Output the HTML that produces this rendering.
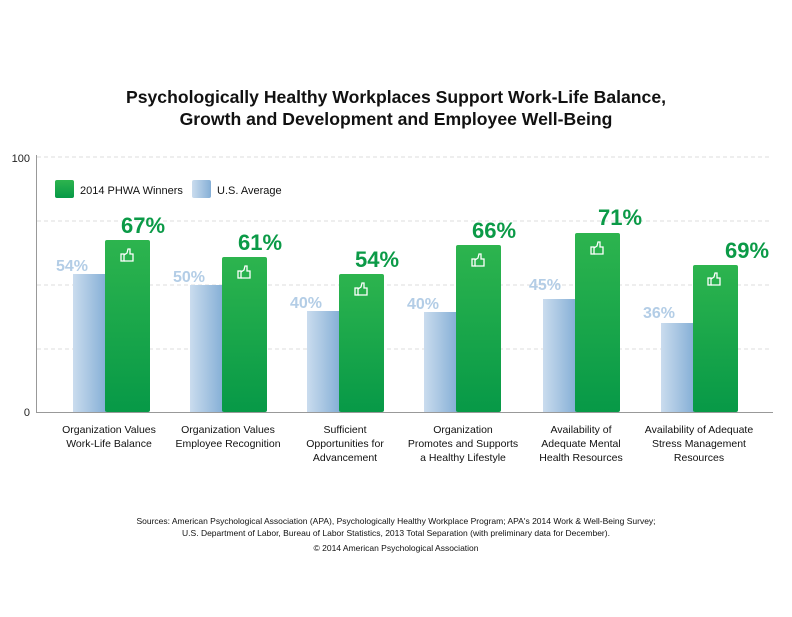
<!DOCTYPE html>
<html><head><meta charset="utf-8"><style>
body{margin:0;width:792px;height:612px;background:#fff;overflow:hidden}
</style></head><body>
<svg width="792" height="612" xmlns="http://www.w3.org/2000/svg" font-family="Liberation Sans, sans-serif">
<defs>
<linearGradient id="g" x1="0" y1="0" x2="0" y2="1"><stop offset="0" stop-color="#2db44e"/><stop offset="1" stop-color="#079947"/></linearGradient>
<linearGradient id="b" x1="0" y1="0" x2="1" y2="0"><stop offset="0" stop-color="#cadcee"/><stop offset="1" stop-color="#85afd6"/></linearGradient>
<g id="th" fill="none" stroke="#fff" stroke-width="1.3"><rect x="-6" y="-2" width="3" height="7"/><path d="M-3 -1 L0 -3 L1 -7 L3 -7 L3 -2 L6 -2 L6 5 L-3 5"/></g>
</defs>
<text x="396" y="103" text-anchor="middle" font-size="17.6" font-weight="bold" fill="#111">Psychologically Healthy Workplaces Support Work-Life Balance,</text>
<text x="396" y="125" text-anchor="middle" font-size="17.6" font-weight="bold" fill="#111">Growth and Development and Employee Well-Being</text>
<g stroke="#ddd" stroke-dasharray="4,3" stroke-width="1">
<line x1="37" y1="157" x2="772" y2="157"/><line x1="37" y1="221" x2="772" y2="221"/><line x1="37" y1="285" x2="772" y2="285"/><line x1="37" y1="349" x2="772" y2="349"/>
</g>
<line x1="36.5" y1="155" x2="36.5" y2="412" stroke="#999"/>
<line x1="36" y1="412.5" x2="773" y2="412.5" stroke="#999"/>
<text x="30" y="162" text-anchor="end" font-size="11" fill="#222">100</text>
<text x="30" y="416" text-anchor="end" font-size="11" fill="#222">0</text>
<rect x="55" y="180" width="19" height="18" rx="2" fill="url(#g)"/>
<text x="80" y="194" font-size="11" fill="#111">2014 PHWA Winners</text>
<rect x="192" y="180" width="19" height="18" rx="2" fill="url(#b)"/>
<text x="217" y="194" font-size="11" fill="#111">U.S. Average</text>
<g font-weight="bold">
<rect x="73" y="274" width="33" height="138" fill="url(#b)"/>
<rect x="105" y="240" width="45" height="172" rx="2" fill="url(#g)"/>
<text x="72" y="271" text-anchor="middle" font-size="16" fill="#b3cde6">54%</text>
<text x="143" y="233" text-anchor="middle" font-size="22" fill="#0b9a47">67%</text>
<use href="#th" x="127" y="256"/>
<rect x="190" y="285" width="33" height="127" fill="url(#b)"/>
<rect x="222" y="257" width="45" height="155" rx="2" fill="url(#g)"/>
<text x="189" y="282" text-anchor="middle" font-size="16" fill="#b3cde6">50%</text>
<text x="260" y="250" text-anchor="middle" font-size="22" fill="#0b9a47">61%</text>
<use href="#th" x="244" y="273"/>
<rect x="307" y="311" width="33" height="101" fill="url(#b)"/>
<rect x="339" y="274" width="45" height="138" rx="2" fill="url(#g)"/>
<text x="306" y="308" text-anchor="middle" font-size="16" fill="#b3cde6">40%</text>
<text x="377" y="267" text-anchor="middle" font-size="22" fill="#0b9a47">54%</text>
<use href="#th" x="361" y="290"/>
<rect x="424" y="312" width="33" height="100" fill="url(#b)"/>
<rect x="456" y="245" width="45" height="167" rx="2" fill="url(#g)"/>
<text x="423" y="309" text-anchor="middle" font-size="16" fill="#b3cde6">40%</text>
<text x="494" y="238" text-anchor="middle" font-size="22" fill="#0b9a47">66%</text>
<use href="#th" x="478" y="261"/>
<rect x="543" y="299" width="33" height="113" fill="url(#b)"/>
<rect x="575" y="233" width="45" height="179" rx="2" fill="url(#g)"/>
<text x="545" y="290" text-anchor="middle" font-size="16" fill="#b3cde6">45%</text>
<text x="620" y="225" text-anchor="middle" font-size="22" fill="#0b9a47">71%</text>
<use href="#th" x="597" y="249"/>
<rect x="661" y="323" width="33" height="89" fill="url(#b)"/>
<rect x="693" y="265" width="45" height="147" rx="2" fill="url(#g)"/>
<text x="659" y="318" text-anchor="middle" font-size="16" fill="#b3cde6">36%</text>
<text x="747" y="258" text-anchor="middle" font-size="22" fill="#0b9a47">69%</text>
<use href="#th" x="714" y="280"/>
</g>
<g font-size="10.5" fill="#111" text-anchor="middle">
<text x="109" y="433">Organization Values</text><text x="109" y="447">Work-Life Balance</text>
<text x="228" y="433">Organization Values</text><text x="228" y="447">Employee Recognition</text>
<text x="345" y="433">Sufficient</text><text x="345" y="447">Opportunities for</text><text x="345" y="461">Advancement</text>
<text x="463" y="433">Organization</text><text x="463" y="447">Promotes and Supports</text><text x="463" y="461">a Healthy Lifestyle</text>
<text x="581" y="433">Availability of</text><text x="581" y="447">Adequate Mental</text><text x="581" y="461">Health Resources</text>
<text x="699" y="433">Availability of Adequate</text><text x="699" y="447">Stress Management</text><text x="699" y="461">Resources</text>
</g>
<g font-size="8.5" fill="#111" text-anchor="middle">
<text x="396" y="524">Sources: American Psychological Association (APA), Psychologically Healthy Workplace Program; APA's 2014 Work &amp; Well-Being Survey;</text>
<text x="396" y="536">U.S. Department of Labor, Bureau of Labor Statistics, 2013 Total Separation (with preliminary data for December).</text>
<text x="396" y="551">© 2014 American Psychological Association</text>
</g>
</svg>
</body></html>
